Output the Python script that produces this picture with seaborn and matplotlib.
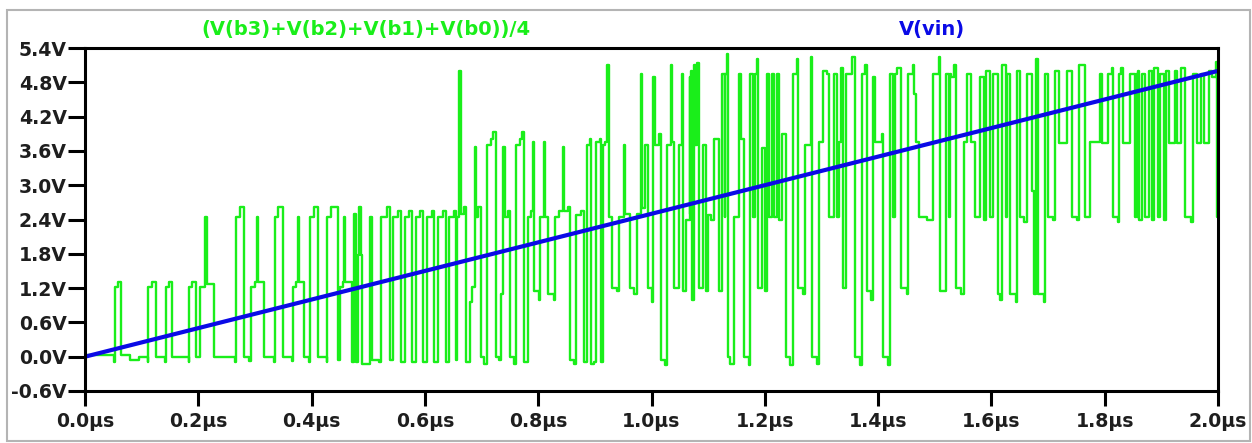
import matplotlib
matplotlib.use("Agg")
import matplotlib.pyplot as plt
import seaborn as sns
import pandas as pd
from matplotlib.patches import Rectangle

# ---------------- data ----------------
# (V(b3)+V(b2)+V(b1)+V(b0))/4 : step trace, times in microseconds, values in volts
t_us = [
    0.0000, 0.0517, 0.0535, 0.0588, 0.0636, 0.0795, 0.0948, 0.1107, 0.1118, 0.1178,
    0.1249, 0.1413, 0.1425, 0.1484, 0.1542, 0.1832, 0.1842, 0.1895, 0.1960, 0.2031,
    0.2125, 0.2149, 0.2273,
    0.2649, 0.2662, 0.2738, 0.2803, 0.2896, 0.2932, 0.3008, 0.3038, 0.3061, 0.3167,
    0.3338, 0.3350, 0.3403, 0.3492, 0.3656, 0.3668, 0.3727, 0.3767, 0.3785, 0.3873,
    0.3962, 0.3974, 0.4050, 0.4110, 0.4269, 0.4279, 0.4345,
    0.4468, 0.4504, 0.4557, 0.4580, 0.4597, 0.4716, 0.4756, 0.4786, 0.4816, 0.4845,
    0.4869, 0.4892, 0.5039, 0.5069, 0.5187, 0.5233, 0.5328, 0.5387, 0.5445, 0.5528,
    0.5581, 0.5646, 0.5728, 0.5775, 0.5841, 0.5922, 0.5975, 0.6040, 0.6123, 0.6169,
    0.6235, 0.6318, 0.6364, 0.6429, 0.6505, 0.6552, 0.6570, 0.6600, 0.6641, 0.6694,
    0.6734, 0.6794, 0.6823, 0.6883, 0.6906, 0.6946, 0.6999, 0.7052, 0.7088, 0.7158,
    0.7206, 0.7247, 0.7312, 0.7335, 0.7383, 0.7413, 0.7466, 0.7501, 0.7564, 0.7600,
    0.7677, 0.7718, 0.7748, 0.7819, 0.7872, 0.7907, 0.7925, 0.8013, 0.8031, 0.8094,
    0.8112, 0.8172, 0.8278, 0.8301, 0.8366, 0.8430, 0.8448, 0.8525, 0.8566, 0.8631,
    0.8660, 0.8755, 0.8813, 0.8866,
    0.8914, 0.8931, 0.8990, 0.9025, 0.9083, 0.9113, 0.9143, 0.9184, 0.9219, 0.9249,
    0.9308, 0.9396, 0.9431, 0.9507, 0.9532, 0.9626, 0.9696, 0.9737, 0.9807, 0.9832,
    0.9878, 0.9943, 1.0014, 1.0032, 1.0055, 1.0132, 1.0173, 1.0231, 1.0279, 1.0337,
    1.0362, 1.0403, 1.0479, 1.0539, 1.0562, 1.0609, 1.0673, 1.0685, 1.0703, 1.0721,
    1.0744, 1.0768, 1.0809, 1.0832, 1.0915, 1.0963, 1.1003, 1.1056, 1.1097,
    1.1185, 1.1245, 1.1290, 1.1305, 1.1333, 1.1351, 1.1392, 1.1450, 1.1538, 1.1586,
    1.1627, 1.1715, 1.1745, 1.1800, 1.1820, 1.1863, 1.1881, 1.1957, 1.2010, 1.2045,
    1.2081, 1.2134, 1.2169, 1.2222, 1.2257, 1.2305, 1.2381, 1.2446, 1.2504, 1.2570,
    1.2593, 1.2681, 1.2711, 1.2817, 1.2840, 1.2928, 1.2951, 1.3034, 1.3100, 1.3140,
    1.3229, 1.3276, 1.3305,
    1.3352, 1.3382, 1.3440, 1.3541, 1.3599, 1.3688, 1.3711, 1.3776, 1.3806, 1.3882,
    1.3905, 1.3940, 1.4071, 1.4094, 1.4182, 1.4212, 1.4270, 1.4290, 1.4341, 1.4412,
    1.4512, 1.4536, 1.4619, 1.4642, 1.4677, 1.4730, 1.4871, 1.4972, 1.5071, 1.5095,
    1.5201, 1.5250, 1.5270, 1.5295, 1.5343, 1.5371, 1.5472, 1.5512,
    1.5577, 1.5636, 1.5719, 1.5807, 1.5878, 1.5908, 1.5984, 1.6037, 1.6108, 1.6160,
    1.6190, 1.6250, 1.6270, 1.6302, 1.6332, 1.6443, 1.6455, 1.6508, 1.6584, 1.6632,
    1.6720, 1.6748, 1.6796, 1.6826, 1.6920, 1.6943, 1.7003, 1.7091, 1.7114, 1.7202,
    1.7338, 1.7427, 1.7503, 1.7543, 1.7649, 1.7732,
    1.7921, 1.7950, 1.8062, 1.8133, 1.8144, 1.8239, 1.8250, 1.8285, 1.8315, 1.8451,
    1.8527, 1.8544, 1.8562, 1.8580, 1.8597, 1.8650, 1.8716, 1.8774, 1.8833, 1.8875,
    1.8933, 1.8981, 1.9051, 1.9075, 1.9133, 1.9233, 1.9268, 1.9352, 1.9415, 1.9516,
    1.9551, 1.9634, 1.9693, 1.9746, 1.9839, 1.9899, 1.9958, 1.9990, 2.0000,
]
v_out = [
    0.03, -0.10, 1.22, 1.30, 0.03, -0.05, 0.00, -0.10, 1.22, 1.30,
    0.00, -0.10, 1.22, 1.30, 0.00, -0.10, 1.22, 1.30, 0.00, 1.22,
    2.45, 1.27, 0.00,
    -0.10, 2.45, 2.62, 0.00, -0.08, 1.22, 1.30, 2.45, 1.30, 0.00,
    -0.10, 2.45, 2.62, 0.00, -0.08, 1.22, 1.30, 2.45, 1.30, 0.00,
    -0.10, 2.45, 2.62, 0.00, -0.10, 2.45, 2.62,
    -0.05, 1.22, 1.30, 2.45, 1.30, -0.10, 2.50, -0.10, 1.78, 2.62,
    1.78, -0.12, 2.45, -0.05, -0.10, 2.45, 2.62, -0.05, 2.45, 2.55,
    -0.10, 2.45, 2.55, -0.10, 2.45, 2.55, -0.10, 2.45, 2.55, -0.10,
    2.45, 2.55, -0.10, 2.45, 2.55, -0.05, 2.45, 5.00, 2.50, 2.62,
    -0.10, 0.95, 1.22, 3.67, 2.45, 2.62, 0.00, -0.12, 3.70, 3.80,
    3.93, 0.00, -0.05, 1.10, 3.67, 2.45, 2.55, 0.00, -0.12, 3.70,
    3.80, 3.93, -0.10, 2.45, 2.55, 3.75, 1.15, 1.00, 2.45, 3.75,
    2.45, 1.10, 1.00, 2.45, 2.55, 3.67, 2.55, 2.62, -0.05, -0.12,
    2.48, 2.55, -0.10, 3.70,
    3.80, -0.12, -0.10, 3.75, 3.80, -0.10, 3.70, 3.75, 5.10, 2.45,
    1.20, 1.15, 2.45, 3.70, 2.50, 1.20, 1.10, 2.50, 4.95, 2.60,
    3.70, 1.20, 0.95, 4.90, 3.70, 3.90, -0.05, -0.15, 3.70, 5.10,
    3.75, 1.20, 3.70, 4.95, 1.15, 2.40, 4.90, 2.50, 5.00, 1.00,
    5.10, 3.70, 5.13, 1.20, 3.70, 1.15, 2.48, 2.40, 3.80,
    1.15, 4.95, 2.45, 4.95, 5.30, 0.00, -0.12, 2.45, 4.95, 3.80,
    0.00, -0.15, 4.95, 2.45, 4.95, 5.20, 1.20, 3.65, 1.15, 4.95,
    2.45, 4.95, 2.45, 4.95, 2.40, 3.90, 0.00, -0.15, 4.95, 5.20,
    1.20, 1.10, 3.70, 5.25, 0.00, -0.12, 3.75, 5.00, 4.95, 2.45,
    4.95, 2.45, 3.75,
    5.05, 1.20, 4.95, 5.25, 0.00, -0.15, 4.95, 5.10, 1.15, 1.00,
    4.90, 3.75, 3.90, 0.00, -0.15, 4.95, 2.45, 4.95, 5.05, 1.20,
    1.10, 4.95, 5.10, 4.60, 3.75, 2.45, 2.40, 4.95, 5.25, 1.15,
    4.95, 2.45, 4.95, 4.90, 5.10, 1.20, 1.10, 3.75,
    4.95, 3.75, 2.45, 4.90, 2.40, 5.00, 2.45, 4.95, 1.10, 1.00,
    5.10, 2.45, 4.95, 4.95, 1.10, 0.95, 5.00, 2.45, 2.35, 4.95,
    2.90, 1.10, 5.20, 1.10, 0.95, 4.95, 2.45, 2.40, 5.00, 3.73,
    5.00, 2.45, 2.40, 5.10, 2.45, 3.75,
    4.95, 3.73, 4.95, 5.05, 2.45, 2.35, 4.95, 5.05, 3.73, 4.95,
    2.45, 4.95, 2.45, 5.00, 2.40, 4.95, 2.45, 5.00, 2.40, 5.05,
    2.45, 4.95, 2.40, 5.00, 3.73, 5.00, 3.73, 5.05, 2.45, 2.35,
    4.95, 3.73, 4.95, 3.73, 5.00, 4.90, 5.15, 2.45, 2.45,
]

# V(vin): linear ramp
t_vin = [0.0, 2.0]
v_vin = [0.0, 5.0]

x_ticks = [0.0, 0.2, 0.4, 0.6, 0.8, 1.0, 1.2, 1.4, 1.6, 1.8, 2.0]
x_tick_labels = ["0.0µs", "0.2µs", "0.4µs", "0.6µs", "0.8µs", "1.0µs",
                 "1.2µs", "1.4µs", "1.6µs", "1.8µs", "2.0µs"]
y_ticks = [-0.6, 0.0, 0.6, 1.2, 1.8, 2.4, 3.0, 3.6, 4.2, 4.8, 5.4]
y_tick_labels = ["-0.6V", "0.0V", "0.6V", "1.2V", "1.8V", "2.4V",
                 "3.0V", "3.6V", "4.2V", "4.8V", "5.4V"]

label_out = "(V(b3)+V(b2)+V(b1)+V(b0))/4"
label_vin = "V(vin)"

# ---------------- styling ----------------
GREEN = "#1aee1a"
BLUE = "#0a0ae6"
TXT = "#1e1e1e"
W, H = 1252, 443

sns.set_theme(style="white")
plt.rcParams["font.family"] = ["DejaVu Sans"]

fig = plt.figure(figsize=(W / 100, H / 100), dpi=100)
fig.patch.set_facecolor("white")

# window frame (light grey border of the waveform window)
fig.patches.append(Rectangle((7 / W, 2 / H), (1250 - 7) / W, (433 - 2) / H,
                             transform=fig.transFigure, fill=False,
                             edgecolor="#b4b4b4", linewidth=1.5))

L, R, T, B = 85, 1218, 48, 391
ax = fig.add_axes([L / W, 1 - B / H, (R - L) / W, (B - T) / H])
ax.set_facecolor("white")

df_out = pd.DataFrame({"t": t_us, "v": v_out})
df_vin = pd.DataFrame({"t": t_vin, "v": v_vin})

sns.lineplot(data=df_out, x="t", y="v", ax=ax, color=GREEN, linewidth=1.7,
             drawstyle="steps-post", estimator=None, sort=False, legend=False)
sns.lineplot(data=df_vin, x="t", y="v", ax=ax, color=BLUE, linewidth=3.0,
             estimator=None, sort=False, legend=False)

ax.set_xlim(0.0, 2.0)
ax.set_ylim(-0.6, 5.4)
ax.set_xticks(x_ticks)
ax.set_xticklabels(x_tick_labels)
ax.set_yticks(y_ticks)
ax.set_yticklabels(y_tick_labels)
ax.set_xlabel("")
ax.set_ylabel("")
ax.grid(False)

for s in ax.spines.values():
    s.set_visible(True)
    s.set_color("black")
    s.set_linewidth(2.2)

ax.tick_params(axis="y", which="major", direction="out", length=12, width=2.2,
               color="black", pad=1, labelsize=13.6, labelcolor=TXT,
               left=True, right=False)
ax.tick_params(axis="x", which="major", direction="out", length=11, width=2.2,
               color="black", pad=4, labelsize=13.6, labelcolor=TXT,
               bottom=True, top=False)
for lab in ax.get_xticklabels() + ax.get_yticklabels():
    lab.set_fontweight("bold")

fig.text(366 / W, 1 - 30 / H, label_out, color=GREEN, fontsize=14,
         fontweight="bold", ha="center", va="center")
fig.text(932 / W, 1 - 30 / H, label_vin, color=BLUE, fontsize=14,
         fontweight="bold", ha="center", va="center")

fig.savefig("out.png", dpi=100, facecolor="white")
